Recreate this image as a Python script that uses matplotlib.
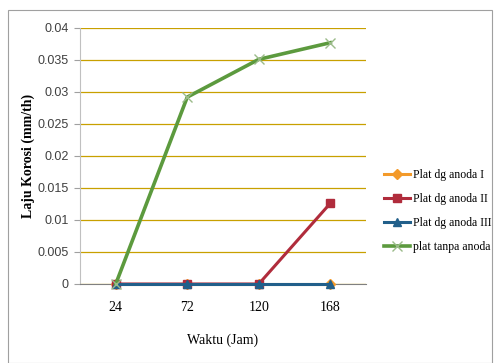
import matplotlib
matplotlib.use('Agg')
import matplotlib.pyplot as plt
from matplotlib.patches import Rectangle

# data
waktu = ['24', '72', '120', '168']
anoda_1 = [0, 0, 0, 0]
anoda_2 = [0, 0, 0, 0.0126]
anoda_3 = [0, 0, 0, 0]
tanpa_anoda = [0, 0.0292, 0.0351, 0.0377]
y_ticks = [0, 0.005, 0.01, 0.015, 0.02, 0.025, 0.03, 0.035, 0.04]
y_labels = ['0', '0.005', '0.01', '0.015', '0.02', '0.025', '0.03', '0.035', '0.04']

plt.rcParams['font.family'] = ['Liberation Serif', 'DejaVu Serif']

fig = plt.figure(figsize=(4.94, 3.63), dpi=100)
fig.patches.append(Rectangle((8/494, 0), 484/494, 1 - 10/363, transform=fig.transFigure,
                             fill=False, edgecolor='#a0a0a0', linewidth=0.8))
ax = fig.add_axes([80/494, 1 - 284/363, 286/494, 256/363])

x = range(len(waktu))
kw = dict(linewidth=2.2, zorder=3, clip_on=False)
ax.plot(x, anoda_1, color='#f39a2a', marker='D', markersize=5, label='Plat dg anoda I', **kw)
ax.plot(x, anoda_2, color='#b02c3c', marker='s', markersize=6, label='Plat dg anoda II', **kw)
ax.plot(x, anoda_3, color='#215f8a', marker='^', markersize=6, label='Plat dg anoda III', **kw)
ax.plot(x, tanpa_anoda, color='#5c9a3e', marker='x', markersize=7, markeredgecolor='#9bbb8a',
        markeredgewidth=1, linewidth=2.6, zorder=3, clip_on=False, label='plat tanpa anoda')

ax.set_xlim(-0.5, 3.5)
ax.set_ylim(0, 0.04)
ax.set_xticks(list(x))
ax.set_xticklabels(waktu, fontsize=10)
ax.set_yticks(y_ticks)
ax.set_yticklabels(y_labels, fontsize=9, family='Liberation Sans', color='#404040')
ax.tick_params(axis='x', length=0, pad=12)
ax.tick_params(axis='y', length=4, color='#a0a0a0', pad=4)
ax.yaxis.grid(True, color='#c8a000', linewidth=0.9)
ax.set_axisbelow(True)
for s in ['top', 'right']:
    ax.spines[s].set_visible(False)
ax.spines['left'].set_color('#c0c0c0')
ax.spines['bottom'].set_color('#808080')

ax.set_xlabel('Waktu (Jam)', fontsize=10, labelpad=14)
ax.set_ylabel('Laju Korosi (mm/th)', fontsize=10, fontweight='bold', labelpad=2)

ax.legend(loc='center left', bbox_to_anchor=(1.035, 0.285), frameon=False, fontsize=8.5,
          handlelength=2.2, handletextpad=0.2, labelspacing=1.0, borderaxespad=0.3)

fig.savefig('out.png', dpi=100)
